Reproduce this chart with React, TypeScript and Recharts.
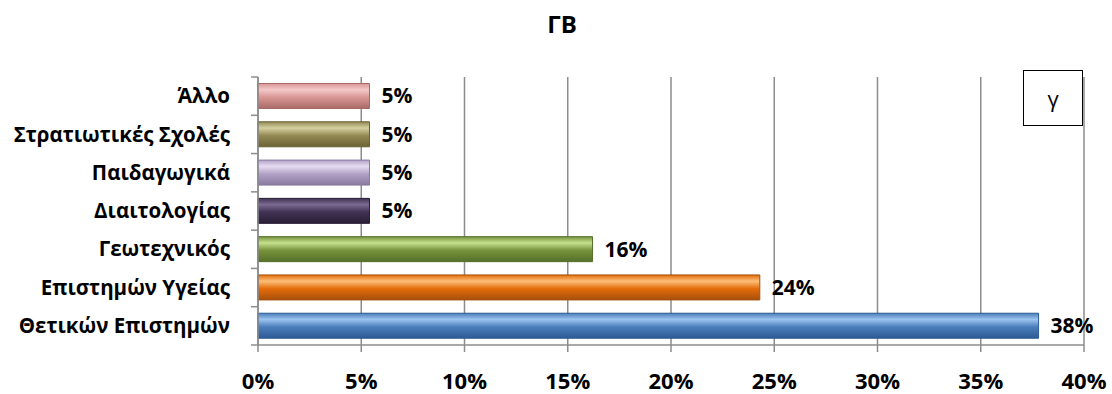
import * as React from 'react';
import { BarChart, Bar, XAxis, YAxis, CartesianGrid, Cell, LabelList } from 'recharts';

const categories = [
  'Άλλο',
  'Στρατιωτικές Σχολές',
  'Παιδαγωγικά',
  'Διαιτολογίας',
  'Γεωτεχνικός',
  'Επιστημών Υγείας',
  'Θετικών Επιστημών',
];
const shares = [0.054, 0.054, 0.054, 0.054, 0.162, 0.243, 0.378];
const xTicks = [0, 0.05, 0.1, 0.15, 0.2, 0.25, 0.3, 0.35, 0.4];

// light / base / dark for each bar
const barColors = [
  ['#f2c9c8', '#d99694', '#a86a68'],
  ['#d6cfa0', '#948a54', '#6b6234'],
  ['#e6dcf2', '#b3a2c7', '#8a7aa0'],
  ['#7c6a92', '#403152', '#2a1f38'],
  ['#c6e08e', '#77933c', '#55702a'],
  ['#fbbf7a', '#e46c0a', '#a6500c'],
  ['#9cc3f0', '#4a7ebb', '#2d5a94'],
];

const data = categories.map((name, i) => ({ name, value: shares[i] }));

const FONT = '"Open Sans", sans-serif';
const W = 1112;
const H = 394;
const X_H = 49;
const M = { top: 77, right: 28, bottom: 0, left: 0 };
const Y_W = 258;
const band = (H - M.top - M.bottom - X_H) / categories.length;

const pct = (v: any) => `${Math.round(Number(v) * 100)}%`;

const CatTick = (props: any) => {
  const { x, y, payload, index } = props;
  const ax = Y_W;
  return (
    <g>
      <line x1={ax - 7} x2={ax} y1={y - band / 2} y2={y - band / 2} stroke="#8c8c8c" strokeWidth={1.5} />
      {index === categories.length - 1 && (
        <line x1={ax - 7} x2={ax} y1={y + band / 2} y2={y + band / 2} stroke="#8c8c8c" strokeWidth={1.5} />
      )}
      <text x={x - 20} y={y} dy="0.35em" textAnchor="end" fontSize={20.5} fontWeight={700} fill="#000" fontFamily={FONT}>
        {payload.value}
      </text>
    </g>
  );
};

export default function App() {
  return (
    <div style={{ position: 'absolute', left: 0, top: 0, width: W, height: H, background: '#fff' }}>
      <div style={{ position: 'absolute', left: 0, top: 7, width: W + 12, textAlign: 'center', fontFamily: FONT, fontWeight: 700, fontSize: 24 }}>
        ΓΒ
      </div>
      <BarChart width={W} height={H} data={data} layout="vertical" margin={M} barCategoryGap="17%">
        <defs>
          {barColors.map((c, i) => (
            <linearGradient key={i} id={`g${i}`} x1="0" y1="0" x2="0" y2="1">
              <stop offset="0%" stopColor={c[1]} />
              <stop offset="25%" stopColor={c[0]} />
              <stop offset="55%" stopColor={c[1]} />
              <stop offset="100%" stopColor={c[2]} />
            </linearGradient>
          ))}
        </defs>
        <CartesianGrid horizontal={false} stroke="#8c8c8c" strokeWidth={1.5} />
        <XAxis
          type="number"
          domain={[0, 0.4]}
          ticks={xTicks}
          tickFormatter={pct}
          height={X_H}
          axisLine={{ stroke: '#8c8c8c', strokeWidth: 1.5 }}
          tickLine={{ stroke: '#8c8c8c', strokeWidth: 1.5 }}
          tickSize={7}
          tickMargin={21}
          tick={{ fill: '#000', fontSize: 22, fontWeight: 700, fontFamily: FONT }}
        />
        <YAxis
          type="category"
          dataKey="name"
          width={Y_W}
          axisLine={{ stroke: '#8c8c8c', strokeWidth: 1.5 }}
          tickLine={false}
          tick={<CatTick />}
          interval={0}
        />
        <Bar dataKey="value" isAnimationActive={false}>
          {data.map((d, i) => (
            <Cell key={d.name} fill={`url(#g${i})`} stroke={barColors[i][2]} strokeWidth={1} />
          ))}
          <LabelList
            dataKey="value"
            position="right"
            offset={12}
            formatter={pct}
            style={{ fill: '#000', fontSize: 21, fontWeight: 700, fontFamily: FONT }}
          />
        </Bar>
      </BarChart>
      <div
        style={{
          position: 'absolute',
          left: 1023,
          top: 70,
          width: 58,
          height: 54,
          border: '1.5px solid #000',
          background: '#fff',
          display: 'flex',
          alignItems: 'center',
          justifyContent: 'center',
          fontFamily: FONT,
          fontSize: 22,
        }}
      >
        γ
      </div>
    </div>
  );
}
